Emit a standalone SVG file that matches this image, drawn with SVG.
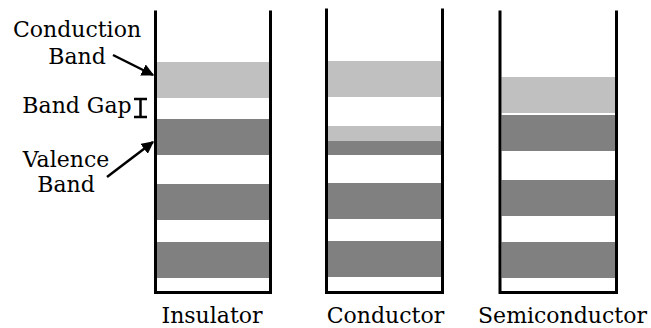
<svg xmlns="http://www.w3.org/2000/svg" width="651" height="328" viewBox="0 0 651 328" font-family="DejaVu Serif" font-size="22">
<defs>
<style>
text{fill:#000}
.wall{fill:none;stroke:#000;stroke-width:3;stroke-linejoin:miter;stroke-linecap:square}
.cb{fill:#c0c0c0}
.vb{fill:#808080}
.arr{stroke:#000;stroke-width:2.5;fill:none}
</style>
<marker id="ah" viewBox="0 0 10 10" refX="9" refY="5" markerWidth="5" markerHeight="5" orient="auto" markerUnits="strokeWidth">
<path d="M0,0 L10,5 L0,10 z" fill="#000"/>
</marker>
</defs>
<rect width="651" height="328" fill="#fff"/>
<g id="insulator">
<rect class="cb" x="157" y="62" width="112" height="36"/>
<rect class="vb" x="157" y="119" width="112" height="36"/>
<rect class="vb" x="157" y="184" width="112" height="36"/>
<rect class="vb" x="157" y="242" width="112" height="36"/>
<path class="wall" d="M155.5,12 V292.5 H270.5 V12"/>
<text x="212" y="323" text-anchor="middle" font-family="DejaVu Serif, serif">Insulator</text>
</g>
<g id="conductor">
<rect class="cb" x="328" y="61" width="113" height="36"/>
<rect class="cb" x="328" y="126" width="113" height="15"/>
<rect class="vb" x="328" y="141" width="113" height="14"/>
<rect class="vb" x="328" y="183" width="113" height="36"/>
<rect class="vb" x="328" y="241" width="113" height="36"/>
<path class="wall" d="M326.5,10 V292.5 H442.5 V10"/>
<text x="385.5" y="323" text-anchor="middle" font-family="DejaVu Serif, serif">Conductor</text>
</g>
<g id="semiconductor">
<rect class="cb" x="501.5" y="77" width="113.5" height="36"/>
<rect class="vb" x="501.5" y="115" width="113.5" height="36"/>
<rect class="vb" x="501.5" y="180" width="113.5" height="36"/>
<rect class="vb" x="501.5" y="242" width="113.5" height="36"/>
<path class="wall" d="M500,12 V292.5 H616.5 V12"/>
<text x="562.5" y="323" text-anchor="middle" font-family="DejaVu Serif, serif">Semiconductor</text>
</g>
<g id="conduction-label" font-family="DejaVu Serif, serif">
<text x="77" y="37" text-anchor="middle">Conduction</text>
<text x="77" y="64" text-anchor="middle">Band</text>
</g>
<g id="bandgap-label" font-family="DejaVu Serif, serif">
<text x="77" y="113" text-anchor="middle">Band Gap</text>
<path d="M134,99 H147 M140.5,99 V117 M134,117 H147" stroke="#000" stroke-width="2.5" fill="none"/>
</g>
<g id="valence-label" font-family="DejaVu Serif, serif">
<text x="66" y="167" text-anchor="middle">Valence</text>
<text x="66" y="192" text-anchor="middle">Band</text>
</g>
<g id="connectors">
<line class="arr" x1="113" y1="55" x2="153" y2="75" marker-end="url(#ah)"/>
<line class="arr" x1="107" y1="177" x2="153" y2="142" marker-end="url(#ah)"/>
</g>
</svg>
